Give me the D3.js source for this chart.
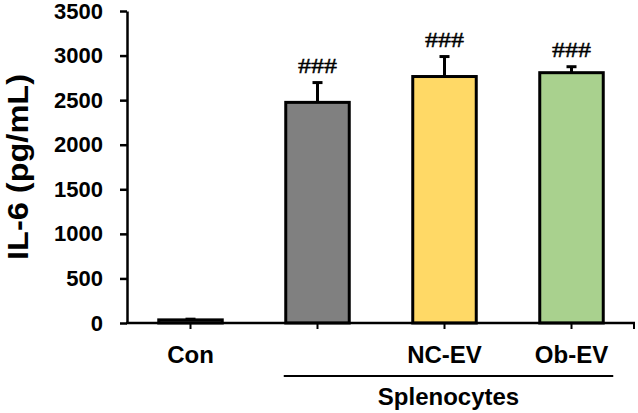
<!DOCTYPE html>
<html>
<head>
<meta charset="utf-8">
<script src="https://cdn.jsdelivr.net/npm/d3@7"></script>
<style>
  body { margin: 0; background: #fff; }
  svg { display: block; }
</style>
</head>
<body>
<script>
const width = 638;
const height = 413;

// data
const categories = ['Con', 'Splenocytes', 'NC-EV', 'Ob-EV'];
const tickLabels = ['Con', '', 'NC-EV', 'Ob-EV'];
const values = [35, 2475, 2765, 2808];
const errors = [8, 222, 224, 67];
const marks = ['', '###', '###', '###'];
const colors = ['#ffffff', '#808080', '#ffd966', '#a9d18e'];
const yTicks = [0, 500, 1000, 1500, 2000, 2500, 3000, 3500];

const plotLeft = 127, plotRight = 635, plotTop = 11, plotBottom = 323;

const svg = d3.create('svg')
  .attr('width', width)
  .attr('height', height)
  .style('font-family', 'Arial, "Liberation Sans", sans-serif');

document.body.appendChild(svg.node());

const x = d3.scaleBand()
  .domain(categories)
  .range([plotLeft, plotRight])
  .paddingInner(0.5)
  .paddingOuter(0.25);

const y = d3.scaleLinear()
  .domain([0, 3500])
  .range([plotBottom, plotTop]);

const rows = categories.map((c, i) => ({ cat: c, v: values[i], e: errors[i], mark: marks[i], color: colors[i] }));

// bars
svg.selectAll('.bar')
  .data(rows)
  .enter().append('rect')
  .attr('class', 'bar')
  .attr('x', d => x(d.cat))
  .attr('y', d => y(d.v))
  .attr('width', x.bandwidth())
  .attr('height', d => y(0) - y(d.v))
  .attr('fill', d => d.color)
  .attr('stroke', '#000')
  .attr('stroke-width', 3);

// error bars
const err = svg.selectAll('.err')
  .data(rows.filter(d => d.e > 0))
  .enter().append('g')
  .attr('class', 'err')
  .attr('stroke', '#000')
  .attr('stroke-width', 3);

err.append('line')
  .attr('x1', d => x(d.cat) + x.bandwidth() / 2)
  .attr('x2', d => x(d.cat) + x.bandwidth() / 2)
  .attr('y1', d => y(d.v))
  .attr('y2', d => y(d.v + d.e));

err.append('line')
  .attr('x1', d => x(d.cat) + x.bandwidth() / 2 - 5)
  .attr('x2', d => x(d.cat) + x.bandwidth() / 2 + 5)
  .attr('y1', d => y(d.v + d.e))
  .attr('y2', d => y(d.v + d.e));

// significance marks
svg.selectAll('.mark')
  .data(rows.filter(d => d.mark))
  .enter().append('text')
  .attr('class', 'mark')
  .attr('x', d => x(d.cat) + x.bandwidth() / 2)
  .attr('y', d => y(d.v + d.e) - 10)
  .attr('text-anchor', 'middle')
  .attr('font-family', '"Liberation Serif", "Times New Roman", serif')
  .attr('font-size', 21)
  .attr('stroke', '#000')
  .attr('stroke-width', 0.4)
  .attr('textLength', 39)
  .attr('lengthAdjust', 'spacingAndGlyphs')
  .text(d => d.mark);

// y axis
const yAxis = svg.append('g')
  .attr('transform', `translate(${plotLeft},0)`)
  .call(d3.axisLeft(y).tickValues(yTicks).tickFormat(d3.format('d'))
    .tickSize(7).tickPadding(17).tickSizeOuter(0));

yAxis.select('.domain').attr('stroke-width', 2.5);
yAxis.selectAll('.tick line').attr('stroke-width', 2.5);
yAxis.selectAll('.tick text')
  .attr('font-size', 22)
  .attr('font-weight', 'bold')
  .attr('font-family', 'Arial, "Liberation Sans", sans-serif')
  .attr('fill', '#000');

// x axis
const xAxis = svg.append('g')
  .attr('transform', `translate(0,${plotBottom})`)
  .call(d3.axisBottom(x).tickSize(6).tickPadding(17).tickSizeOuter(0)
    .tickFormat((d, i) => tickLabels[i]));

xAxis.select('.domain').remove();
xAxis.append('line')
  .attr('x1', plotLeft - 1)
  .attr('x2', plotRight)
  .attr('stroke', '#000')
  .attr('stroke-width', 2.5);
xAxis.append('line')
  .attr('x1', plotRight - 1)
  .attr('x2', plotRight - 1)
  .attr('y1', 0)
  .attr('y2', 6)
  .attr('stroke', '#000')
  .attr('stroke-width', 2);
xAxis.selectAll('.tick line').attr('stroke-width', 2);
xAxis.selectAll('.tick text')
  .attr('font-size', 24)
  .attr('font-weight', 'bold')
  .attr('font-family', 'Arial, "Liberation Sans", sans-serif')
  .attr('fill', '#000');

// group bracket
const gx1 = x('Splenocytes') - 2;
const gx2 = x('Ob-EV') + x.bandwidth() + 10;
svg.append('line')
  .attr('x1', gx1)
  .attr('x2', gx2)
  .attr('y1', 376)
  .attr('y2', 376)
  .attr('stroke', '#000')
  .attr('stroke-width', 2);

svg.append('text')
  .attr('x', (gx1 + gx2) / 2)
  .attr('y', 405)
  .attr('text-anchor', 'middle')
  .attr('font-size', 24)
  .attr('font-weight', 'bold')
  .text('Splenocytes');

// y title
svg.append('text')
  .attr('transform', `translate(28,${(plotTop + plotBottom) / 2}) rotate(-90)`)
  .attr('text-anchor', 'middle')
  .attr('font-size', 30)
  .attr('font-weight', 'bold')
  .attr('textLength', 186)
  .attr('lengthAdjust', 'spacingAndGlyphs')
  .text('IL-6 (pg/mL)');
</script>
</body>
</html>
